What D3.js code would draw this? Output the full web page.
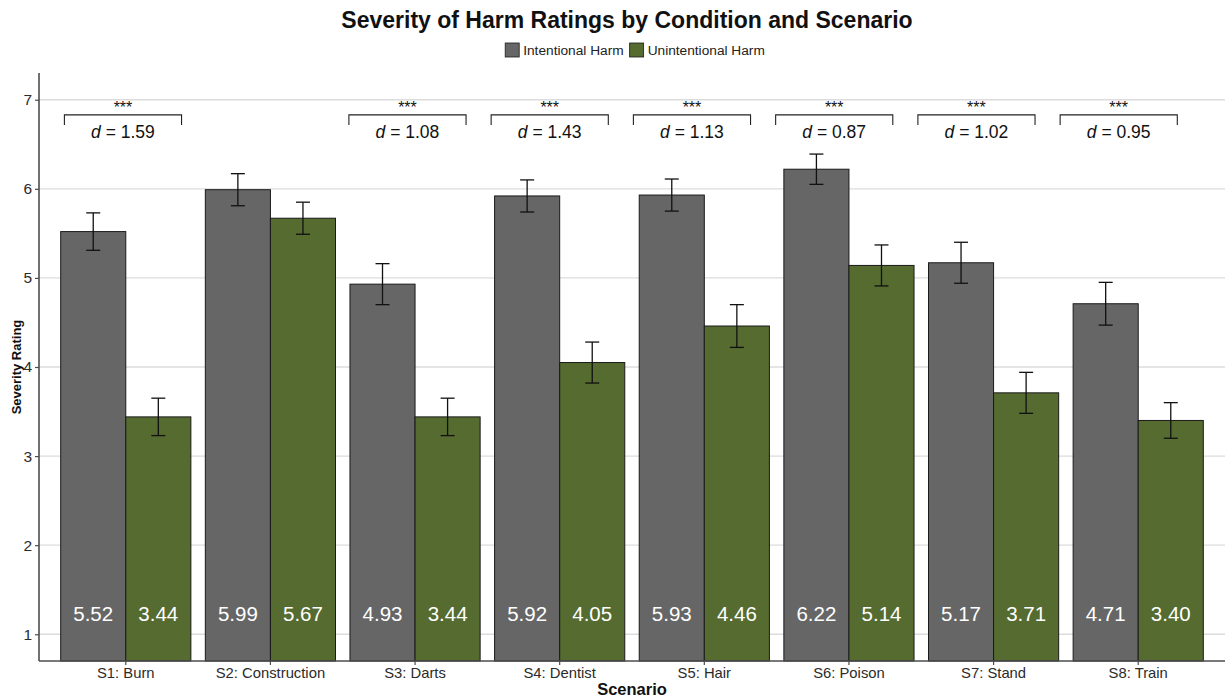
<!DOCTYPE html>
<html>
<head>
<meta charset="utf-8">
<script src="https://cdn.jsdelivr.net/npm/d3@7"></script>
<style>
  html, body { margin: 0; padding: 0; background: #fff; }
  svg { display: block; font-family: "Liberation Sans", Arial, Helvetica, sans-serif; }
</style>
</head>
<body>
<svg id="chart" width="1229" height="698"></svg>
<script>
// Scenarios and conditions
const scenarios = ["S1: Burn", "S2: Construction", "S3: Darts", "S4: Dentist",
                   "S5: Hair", "S6: Poison", "S7: Stand", "S8: Train"];
const conditions = ["Intentional Harm", "Unintentional Harm"];

// Mean severity ratings per scenario
const intentionalMeans   = [5.52, 5.99, 4.93, 5.92, 5.93, 6.22, 5.17, 4.71];
const unintentionalMeans = [3.44, 5.67, 3.44, 4.05, 4.46, 5.14, 3.71, 3.40];

// Standard errors (half-length of error bars)
const intentionalSE   = [0.21, 0.18, 0.23, 0.18, 0.18, 0.17, 0.23, 0.24];
const unintentionalSE = [0.21, 0.18, 0.21, 0.23, 0.24, 0.23, 0.23, 0.20];

// Significance and effect sizes (null = no bracket)
const significance = ["***", null, "***", "***", "***", "***", "***", "***"];
const effectSizes  = [1.59, null, 1.08, 1.43, 1.13, 0.87, 1.02, 0.95];

const yTicks = [1, 2, 3, 4, 5, 6, 7];

const colors = { "Intentional Harm": "#666666", "Unintentional Harm": "#556B2F" };

const rows = [];
scenarios.forEach((s, i) => {
  rows.push({ scenario: s, condition: conditions[0], mean: intentionalMeans[i], se: intentionalSE[i] });
  rows.push({ scenario: s, condition: conditions[1], mean: unintentionalMeans[i], se: unintentionalSE[i] });
});

const svg = d3.select("#chart");
const panel = { left: 39, right: 1225, top: 73, bottom: 661 };

const x0 = d3.scaleBand()
  .domain(scenarios)
  .range([panel.left, panel.right])
  .paddingInner(0.1)
  .paddingOuter(0.15);

const x1 = d3.scaleBand()
  .domain(conditions)
  .range([0, x0.bandwidth()])
  .padding(0);

const y = d3.scaleLinear()
  .domain([0.7, 7.3])
  .range([panel.bottom, panel.top]);

// Horizontal grid lines
svg.append("g")
  .selectAll("line")
  .data(yTicks)
  .join("line")
  .attr("x1", panel.left)
  .attr("x2", panel.right)
  .attr("y1", d => y(d))
  .attr("y2", d => y(d))
  .attr("stroke", "#dcdcdc")
  .attr("stroke-width", 1.3);

// Bars
const groups = svg.append("g")
  .selectAll("g")
  .data(scenarios)
  .join("g")
  .attr("transform", d => `translate(${x0(d)},0)`);

groups.selectAll("rect")
  .data(s => rows.filter(r => r.scenario === s))
  .join("rect")
  .attr("x", d => x1(d.condition))
  .attr("width", x1.bandwidth())
  .attr("y", d => y(d.mean))
  .attr("height", d => y(0.7) - y(d.mean))
  .attr("fill", d => colors[d.condition])
  .attr("stroke", "#1a1a1a")
  .attr("stroke-width", 1);

// Error bars
const capHalf = 7;
const eb = groups.selectAll("g.err")
  .data(s => rows.filter(r => r.scenario === s))
  .join("g")
  .attr("class", "err")
  .attr("stroke", "#111")
  .attr("stroke-width", 1.3);

eb.append("line")
  .attr("x1", d => x1(d.condition) + x1.bandwidth() / 2)
  .attr("x2", d => x1(d.condition) + x1.bandwidth() / 2)
  .attr("y1", d => y(d.mean + d.se))
  .attr("y2", d => y(d.mean - d.se));
eb.append("line")
  .attr("x1", d => x1(d.condition) + x1.bandwidth() / 2 - capHalf)
  .attr("x2", d => x1(d.condition) + x1.bandwidth() / 2 + capHalf)
  .attr("y1", d => y(d.mean + d.se))
  .attr("y2", d => y(d.mean + d.se));
eb.append("line")
  .attr("x1", d => x1(d.condition) + x1.bandwidth() / 2 - capHalf)
  .attr("x2", d => x1(d.condition) + x1.bandwidth() / 2 + capHalf)
  .attr("y1", d => y(d.mean - d.se))
  .attr("y2", d => y(d.mean - d.se));

// Value labels inside bars
groups.selectAll("text.val")
  .data(s => rows.filter(r => r.scenario === s))
  .join("text")
  .attr("class", "val")
  .attr("x", d => x1(d.condition) + x1.bandwidth() / 2)
  .attr("y", y(1.23))
  .attr("dy", "0.36em")
  .attr("text-anchor", "middle")
  .attr("fill", "#ffffff")
  .attr("font-size", 20.5)
  .text(d => d.mean.toFixed(2));

// Significance brackets with effect sizes
const step = x0.step();
const bracketCenter = i => x0(scenarios[0]) + x0.bandwidth() / 2 - 2.8 + i * step * 0.9835;
const bracketHalf = step * 0.405;
const bTop = y(6.83), bLeg = y(6.715);

const br = svg.append("g")
  .selectAll("g")
  .data(scenarios.map((s, i) => ({ i, sig: significance[i], d: effectSizes[i] })).filter(b => b.sig))
  .join("g");

br.append("path")
  .attr("d", b => {
    const c = bracketCenter(b.i);
    return `M${c - bracketHalf},${bLeg}V${bTop}H${c + bracketHalf}V${bLeg}`;
  })
  .attr("fill", "none")
  .attr("stroke", "#222")
  .attr("stroke-width", 1.1);

br.append("text")
  .attr("x", b => bracketCenter(b.i))
  .attr("y", y(6.855))
  .attr("text-anchor", "middle")
  .attr("font-size", 16)
  .attr("fill", "#111")
  .text(b => b.sig);

const dt = br.append("text")
  .attr("x", b => bracketCenter(b.i))
  .attr("y", y(6.645))
  .attr("dy", "0.36em")
  .attr("text-anchor", "middle")
  .attr("font-size", 17.5)
  .attr("fill", "#111");
dt.append("tspan").attr("font-style", "italic").text("d");
dt.append("tspan").text(b => " = " + b.d.toFixed(2));

// Y axis
const yAxis = svg.append("g")
  .attr("transform", `translate(${panel.left},0)`)
  .call(d3.axisLeft(y).tickValues(yTicks).tickSize(4).tickPadding(3).tickFormat(d3.format("d")));
yAxis.select(".domain").attr("stroke", "#4d4d4d").attr("stroke-width", 1.6).attr("d", `M0,${panel.top}V${panel.bottom}`);
yAxis.selectAll(".tick line").attr("stroke", "#4d4d4d").attr("stroke-width", 1.2);
yAxis.selectAll(".tick text").attr("font-size", 15.5).attr("fill", "#2b2b2b")
  .attr("font-family", "'Liberation Sans', Arial, sans-serif");

// X axis
const xAxis = svg.append("g")
  .attr("transform", `translate(0,${panel.bottom})`)
  .call(d3.axisBottom(x0).tickSize(4).tickPadding(2).tickSizeOuter(0));
xAxis.select(".domain").attr("stroke", "#4d4d4d").attr("stroke-width", 1.6).attr("d", `M${panel.left},0H${panel.right}`);
xAxis.selectAll(".tick line").attr("stroke", "#4d4d4d").attr("stroke-width", 1.2);
xAxis.selectAll(".tick text").attr("font-size", 14.8).attr("fill", "#2b2b2b")
  .attr("font-family", "'Liberation Sans', Arial, sans-serif");

// Axis titles
svg.append("text")
  .attr("x", (panel.left + panel.right) / 2)
  .attr("y", 689)
  .attr("dy", "0.36em")
  .attr("text-anchor", "middle")
  .attr("font-weight", "bold")
  .attr("font-size", 16.5)
  .attr("fill", "#111")
  .text("Scenario");

svg.append("text")
  .attr("transform", `translate(16,${(panel.top + panel.bottom) / 2}) rotate(-90)`)
  .attr("dy", "0.36em")
  .attr("text-anchor", "middle")
  .attr("font-weight", "bold")
  .attr("font-size", 13)
  .attr("fill", "#111")
  .text("Severity Rating");

// Title
svg.append("text")
  .attr("x", 627)
  .attr("y", 20)
  .attr("dy", "0.36em")
  .attr("text-anchor", "middle")
  .attr("font-weight", "bold")
  .attr("font-size", 23)
  .attr("fill", "#111")
  .text("Severity of Harm Ratings by Condition and Scenario");

// Legend
const legend = svg.append("g");
const legendItems = legend.selectAll("g")
  .data(conditions)
  .join("g");
legendItems.append("rect")
  .attr("width", 14).attr("height", 14)
  .attr("y", -7)
  .attr("fill", d => colors[d])
  .attr("stroke", "#1a1a1a")
  .attr("stroke-width", 0.8);
legendItems.append("text")
  .attr("x", 18)
  .attr("dy", "0.36em")
  .attr("font-size", 13.7)
  .attr("fill", "#222")
  .text(d => d);
// lay legend items out horizontally, centered
const gap = 6;
const widths = legendItems.nodes().map(n => n.getBBox().width);
const total = d3.sum(widths) + gap * (widths.length - 1);
let cx = 635 - total / 2;
legendItems.attr("transform", (d, i) => {
  const t = `translate(${cx},50)`;
  cx += widths[i] + gap;
  return t;
});
</script>
</body>
</html>
